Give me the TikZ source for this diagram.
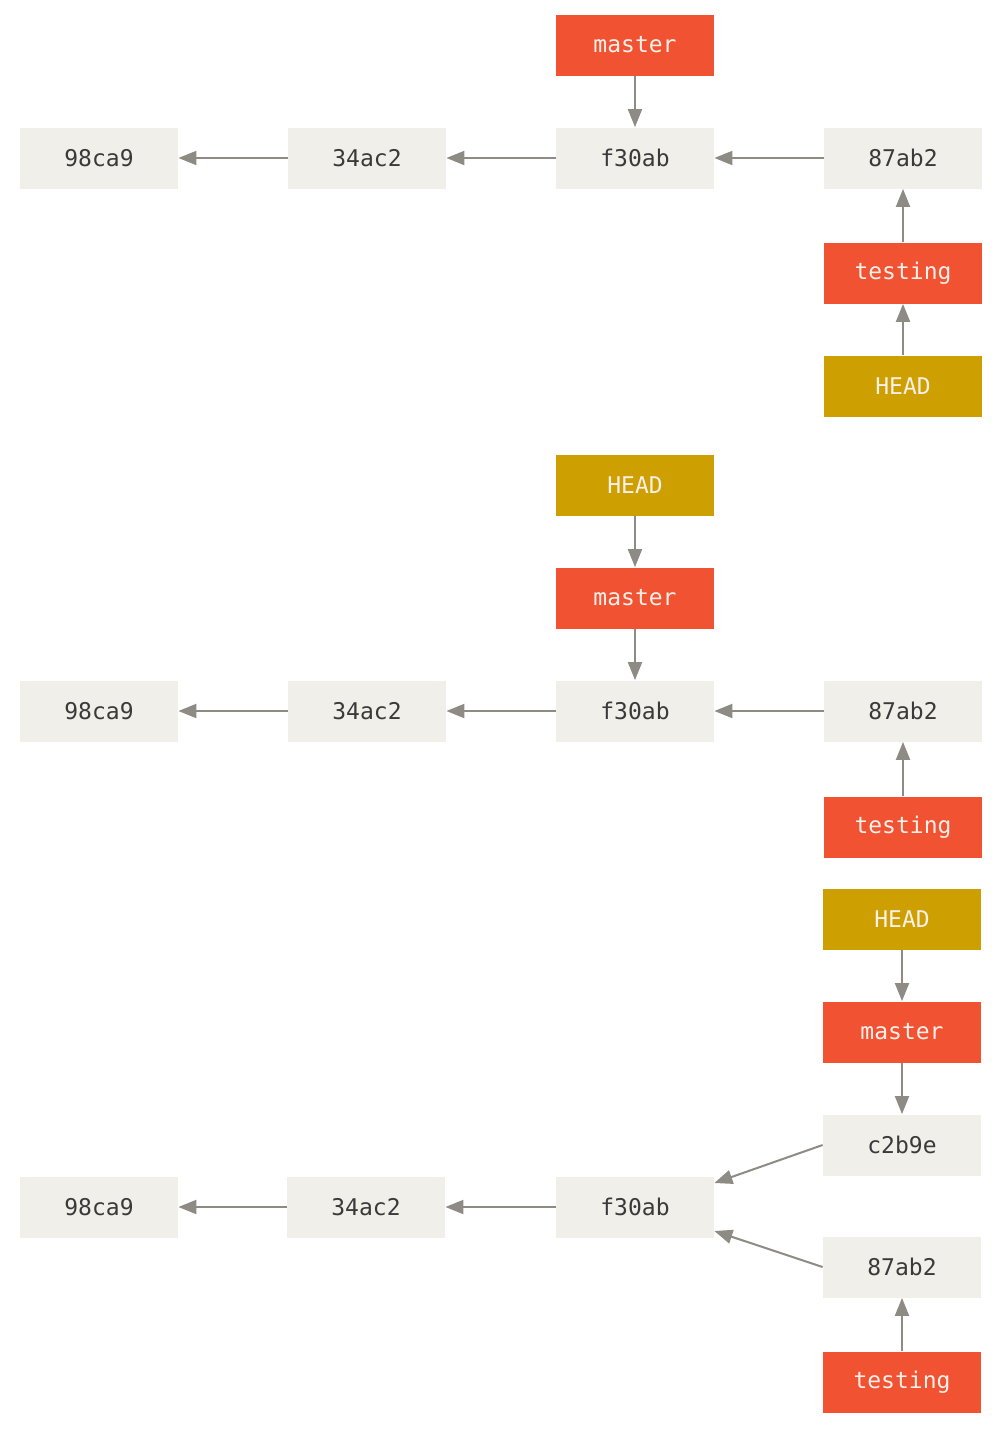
\documentclass[tikz,border=0pt]{standalone}
\usepackage{fontspec}
\setmonofont{DejaVu Sans Mono}
\usetikzlibrary{arrows.meta}
\definecolor{commitbg}{HTML}{F0EFEA}
\definecolor{commitfg}{HTML}{3A3A3A}
\definecolor{branchred}{HTML}{F15232}
\definecolor{headgold}{HTML}{CD9F00}
\definecolor{labelfg}{HTML}{FAF0EA}
\definecolor{arrowgray}{HTML}{8E8B85}
\begin{document}
\begin{tikzpicture}[x=0.5pt,y=-0.5pt,font=\ttfamily\fontsize{11.5}{13}\selectfont,line join=round,>={Triangle[length=9pt,width=7pt]},
	commit/.style={fill=commitbg,text=commitfg,minimum width=79pt,minimum height=30.5pt,inner sep=0pt},
	branch/.style={commit,fill=branchred,text=labelfg},
	headbox/.style={commit,fill=headgold,text=labelfg},
	link/.style={->,draw=arrowgray,line width=1pt}]
			\useasboundingbox (0,0) rectangle (1006,1431);
			% first state: testing checked out
			\foreach \id/\x in {98ca9/99,34ac2/367,f30ab/635,87ab2/903}{\node[commit] (\id-a) at (\x,158) {\id};}
			\node[branch] (master-a) at (635,45) {master};
			\node[branch] (testing-a) at (903,273) {testing};
			\node[headbox] (head-a) at (903,386) {HEAD};
			\foreach \s/\t in {34ac2/98ca9,f30ab/34ac2,87ab2/f30ab}{\draw[link] (\s-a) -- (\t-a);}
			\draw[link] (master-a) -- (f30ab-a);
			\draw[link] (testing-a) -- (87ab2-a);
			\draw[link] (head-a) -- (testing-a);
			% second state: back on master
			\foreach \id/\x in {98ca9/99,34ac2/367,f30ab/635,87ab2/903}{\node[commit] (\id-b) at (\x,711) {\id};}
			\node[headbox] (head-b) at (635,485) {HEAD};
			\node[branch] (master-b) at (635,598) {master};
			\node[branch] (testing-b) at (903,827) {testing};
			\foreach \s/\t in {34ac2/98ca9,f30ab/34ac2,87ab2/f30ab}{\draw[link] (\s-b) -- (\t-b);}
			\draw[link] (head-b) -- (master-b);
			\draw[link] (master-b) -- (f30ab-b);
			\draw[link] (testing-b) -- (87ab2-b);
			% third state: history diverged
			\foreach \id/\x in {98ca9/99,34ac2/366,f30ab/635}{\node[commit] (\id-c) at (\x,1207) {\id};}
			\node[commit] (c2b9e-c) at (902,1145) {c2b9e};
			\node[commit] (87ab2-c) at (902,1267) {87ab2};
			\node[headbox] (head-c) at (902,919) {HEAD};
			\node[branch] (master-c) at (902,1032) {master};
			\node[branch] (testing-c) at (902,1382) {testing};
			\foreach \s/\t in {34ac2/98ca9,f30ab/34ac2}{\draw[link] (\s-c) -- (\t-c);}
			\draw[link] (c2b9e-c.west) -- ([yshift=12pt]f30ab-c.east);
			\draw[link] (87ab2-c.west) -- ([yshift=-12pt]f30ab-c.east);
			\draw[link] (head-c) -- (master-c);
			\draw[link] (master-c) -- (c2b9e-c);
			\draw[link] (testing-c) -- (87ab2-c);
	\end{tikzpicture}
\end{document}
